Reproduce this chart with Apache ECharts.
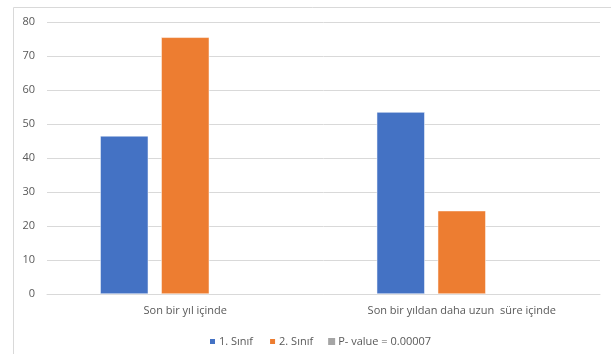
<!DOCTYPE html>
<html>
<head>
<meta charset="utf-8">
<script src="https://cdn.jsdelivr.net/npm/echarts@6/dist/echarts.min.js"></script>
<style>
  html, body { margin: 0; padding: 0; background: #fff; }
  #chart { width: 611px; height: 354px; }
</style>
</head>
<body>
<div id="chart"></div>
<script>
// kategoriler ve değerler
let categories = ['Son bir yıl içinde', 'Son bir yıldan daha uzun  süre içinde'];
let sinif1 = [46.5, 53.5];
let sinif2 = [75.5, 24.5];
let pValue = [null, null];
let yTicks = { min: 0, max: 80, interval: 10 };

let chart = echarts.init(document.getElementById('chart'));

let textColor = '#595959';
let font = 'Open Sans, Noto Sans, sans-serif';

chart.setOption({
    animation: false,
    textStyle: { fontFamily: font },
    graphic: [{
        type: 'rect',
        shape: { x: 13.5, y: 7.5, width: 700, height: 400 },
        style: { fill: null, stroke: '#d9d9d9', lineWidth: 1 },
        silent: true
    }],
    grid: { left: 47, right: 11, top: 22, bottom: 60 },
    legend: {
        top: 331,
        left: 203,
        itemWidth: 7,
        itemHeight: 7,
        itemGap: 15,
        icon: 'rect',
        textStyle: { color: textColor, fontSize: 11, fontFamily: font, padding: [0, 0, 0, -2] },
        data: ['1. Sınıf', '2. Sınıf', 'P- value = 0.00007']
    },
    xAxis: {
        type: 'category',
        data: categories,
        axisTick: { show: false },
        axisLine: { lineStyle: { color: '#d9d9d9', width: 1 } },
        axisLabel: { color: textColor, fontSize: 11, margin: 11 }
    },
    yAxis: {
        type: 'value',
        min: yTicks.min,
        max: yTicks.max,
        interval: yTicks.interval,
        axisLine: { show: false },
        axisTick: { show: false },
        axisLabel: { color: textColor, fontSize: 11, margin: 12 },
        splitLine: { lineStyle: { color: '#d9d9d9', width: 1 } }
    },
    series: [{
        name: '1. Sınıf',
        type: 'bar',
        data: sinif1,
        barGap: '27%',
        barCategoryGap: '38.5%',
        itemStyle: { color: '#4472c4', borderColor: '#ffffff', borderWidth: 0.5 }
    }, {
        name: '2. Sınıf',
        type: 'bar',
        data: sinif2,
        itemStyle: { color: '#ed7d31', borderColor: '#ffffff', borderWidth: 0.5 }
    }, {
        name: 'P- value = 0.00007',
        type: 'bar',
        data: pValue,
        itemStyle: { color: '#a5a5a5' }
    }]
});
</script>
</body>
</html>
